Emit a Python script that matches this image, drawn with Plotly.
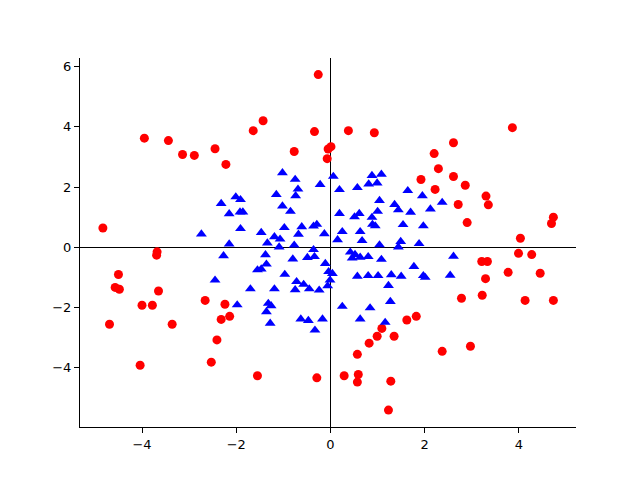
import plotly.graph_objects as go

# outer points (red circles)
red_x = [-4.83, -4.69, -4.50, -4.57, -4.48, -3.68, -3.69, -3.65, -4.00, -3.78,
         -3.36, -4.04, -2.66, -2.24, -2.32, -2.14, -2.41, -2.53, -3.95, -3.44,
         -3.14, -2.89, -2.45, -2.22, -1.64, -1.43, -0.26, -0.34, 0.38, 0.93,
         -0.77, 0.01, -0.05, -0.07, 3.86, 2.61, 2.20, 2.29, 2.61, 1.92,
         2.86, 2.22, 3.30, 3.35, 2.71, 2.90, 4.73, 4.69, 4.03, 3.99,
         4.27, 3.21, 3.33, 3.29, 3.77, 4.45, 2.78, 3.22, 4.13, 4.73,
         1.82, 1.62, 2.37, 2.97, -1.55, -0.29, 0.29, 0.59, 0.57, 1.28,
         1.23, 0.57, 0.82, 0.99, 1.09, 1.35]
red_y = [0.64, -2.55, -0.90, -1.33, -1.39, -0.15, -0.26, -1.45, -1.92, -1.92,
         -2.55, -3.91, -1.76, -1.89, -2.39, -2.29, -3.07, -3.81, 3.62, 3.54,
         3.08, 3.05, 3.27, 2.75, 3.87, 4.20, 5.73, 3.84, 3.87, 3.80,
         3.18, 3.34, 3.26, 2.94, 3.97, 3.47, 3.11, 2.61, 2.35, 2.25,
         2.06, 1.92, 1.70, 1.41, 1.42, 0.82, 1.00, 0.79, 0.30, -0.20,
         -0.24, -0.47, -0.47, -1.04, -0.83, -0.86, -1.69, -1.59, -1.76, -1.76,
         -2.29, -2.41, -3.45, -3.28, -4.26, -4.33, -4.26, -4.22, -4.47, -4.44,
         -5.40, -3.55, -3.18, -2.95, -2.69, -2.95]

# inner points (blue triangles)
blue_x = [-2.74, -2.32, -2.15, -2.15, -2.01, -1.91, -1.92, -1.86, -1.91, -1.47,
          -1.34, -1.19, -1.07, -1.09, -1.15, -1.02, -1.02, -0.98, -0.85, -0.77,
          -0.75, -0.69, -0.74, -0.68, -0.61, -0.36, -0.29, -0.36, -0.22, -0.13,
          0.06, 0.19, 0.15, 0.19, 0.25, 0.57, 0.51, 0.61, 0.63, 0.67,
          0.81, 0.88, 0.99, 1.08, 0.88, 0.89, 0.95, 1.00, 1.04, 1.04,
          1.36, 1.44, 1.44, 1.49, 1.54, 1.64, 1.70, 1.88, 1.95, 1.97,
          2.12, 2.37,
          -2.27, -2.45, -1.98, -1.70, -1.38, -1.36, -1.55, -1.47, -0.97, -1.19,
          -0.80, -0.49, -0.34, -0.72, -0.57, -0.75, -0.45, -0.24, -0.06, -0.11,
          -0.04, 0.04, -0.01, -1.32, -1.26, -1.36, -1.28, -0.63, -0.47, -0.17,
          -0.33, 0.25, 0.84, 0.63, 1.16, 1.23, 1.27, 0.57, 0.80, 1.01,
          1.29, 1.50, 1.08, 0.42, 0.52, 0.46, 0.63, 0.80, 1.77, 1.97,
          2.01, 2.54, 2.61]
blue_y = [0.44, 1.45, 1.11, 0.11, 1.67, 1.58, 1.17, 1.17, 0.62, 0.49,
          0.14, 0.35, 0.27, 0.01, 1.75, 2.47, 1.37, 0.65, 1.19, 0.07,
          2.25, 1.93, 1.71, 0.43, 0.68, 0.70, 0.76, -0.08, 2.08, 0.45,
          2.35, 1.91, 0.25, 1.12, 0.52, 1.98, 1.01, 1.12, 0.52, 0.22,
          2.10, 2.38, 2.13, 2.42, 0.99, 0.76, 0.71, 1.19, 1.55, 0.08,
          1.42, 1.24, 0.01, 0.19, 0.75, 1.88, 1.16, 0.12, 1.71, 0.71,
          1.27, 1.49,
          -0.28, -1.09, -1.91, -1.38, -0.25, -0.56, -0.75, -0.72, -0.90, -1.38,
          -0.39, -0.34, -0.31, -1.14, -1.23, -1.41, -1.38, -1.42, -1.28, -0.54,
          -0.81, -0.87, -1.09, -1.86, -1.94, -2.14, -2.52, -2.38, -2.43, -2.38,
          -2.75, -1.96, -2.01, -2.38, -2.49, -1.27, -1.80, -0.96, -0.94, -0.94,
          -0.91, -0.96, -0.40, -0.16, -0.24, -0.36, -0.33, -0.31, -0.64, -0.94,
          -1.00, -0.93, -0.30]

x_ticks = [-4, -2, 0, 2, 4]
y_ticks = [-4, -2, 0, 2, 4, 6]

fig = go.Figure()

fig.add_trace(go.Scatter(
    x=red_x, y=red_y, mode='markers',
    marker=dict(symbol='circle', size=9, color='red'),
    showlegend=False
))

fig.add_trace(go.Scatter(
    x=blue_x, y=blue_y, mode='markers',
    marker=dict(symbol='triangle-up', size=9.5, color='blue'),
    showlegend=False
))

axis_style = dict(
    showgrid=False,
    zeroline=True,
    zerolinecolor='black',
    zerolinewidth=1,
    showline=True,
    linecolor='black',
    linewidth=1,
    ticks='outside',
    ticklen=5,
    tickwidth=1,
    tickcolor='black',
    tickfont=dict(family='DejaVu Sans', size=13, color='black'),
)

fig.update_xaxes(range=[-5.316, 5.21], tickvals=x_ticks, **axis_style)
fig.update_yaxes(range=[-5.96, 6.28], tickvals=y_ticks, **axis_style)

# page body adds an 8px offset, so margins are shifted to compensate
fig.update_layout(
    width=640,
    height=480,
    margin=dict(l=72, r=72, t=50, b=61),
    plot_bgcolor='white',
    paper_bgcolor='white',
    showlegend=False
)

fig.write_html("out.html")
